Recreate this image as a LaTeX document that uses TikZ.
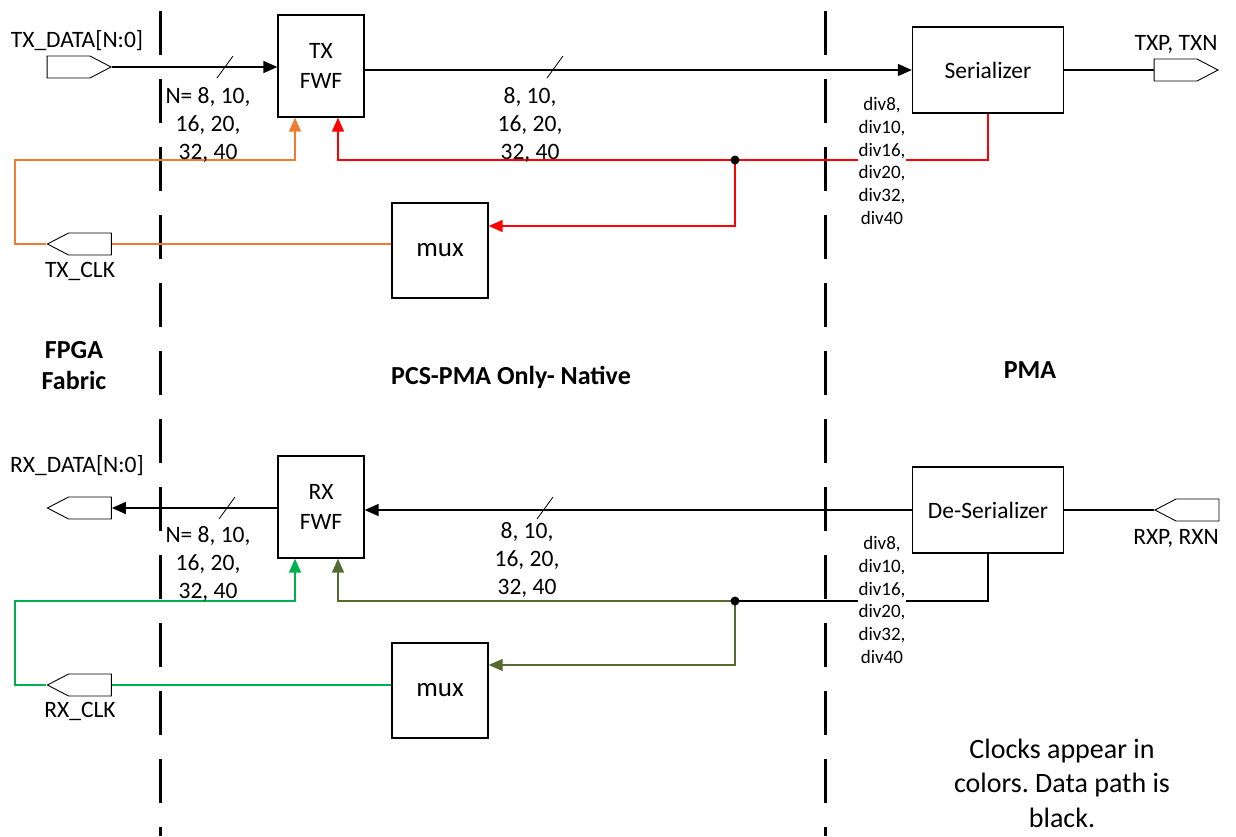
\documentclass[tikz,border=0pt]{standalone}
\usepackage{fontspec}
\setmainfont{Carlito}
\usetikzlibrary{arrows.meta,shapes.symbols}
\definecolor{txorange}{HTML}{ED7D31}
\definecolor{rxgreen}{HTML}{00B050}
\definecolor{rxolive}{HTML}{556B2F}
\frenchspacing
\tikzset{
    blk/.style={draw, line width=1.3pt, inner sep=0pt, align=center, font=\fontsize{23.5}{30}\selectfont},
    lbl/.style={inner sep=1pt, align=center, font=\fontsize{23.5}{28}\selectfont},
    divlbl/.style={fill=white, inner sep=1pt, align=center, font=\fontsize{19}{22.7}\selectfont},
    bigbold/.style={align=center, font=\fontsize{26}{31}\selectfont\bfseries},
    pinshape/.style={draw, line width=0.9pt, signal, signal pointer angle=55, inner sep=0pt, minimum width=64pt, minimum height=22pt},
    wire/.style={line width=1.6pt},
    tip/.style={-{Triangle[length=14pt,width=12pt]}}
}
\begin{document}
\begin{tikzpicture}[x=1pt,y=-1pt]
    \useasboundingbox (0,0) rectangle (1236,836);
    \foreach \x in {160,825}
        \draw[line width=3pt, dash pattern=on 44pt off 24pt] (\x,11) -- (\x,836);

    \node[blk, minimum width=86pt, minimum height=102pt] (txfwf) at (321,66) {TX\\FWF};
    \node[blk, minimum width=151pt, minimum height=86pt] (ser) at (988,70) {Serializer};
    \node[blk, minimum width=96pt, minimum height=95pt, font=\fontsize{27}{30}\selectfont] (txmux) at (440,250.5) {mux};
    \node[blk, minimum width=86pt, minimum height=102pt] (rxfwf) at (321,507) {RX\\FWF};
    \node[blk, minimum width=151pt, minimum height=86pt] (deser) at (988,510) {De-Serializer};
    \node[blk, minimum width=96pt, minimum height=95pt, font=\fontsize{27}{30}\selectfont] (rxmux) at (440,690.5) {mux};

    \node[pinshape, signal to=east] (txdata) at (68.5,67) {};
    \node[pinshape, signal to=west] (txclk) at (90,244) {};
    \node[pinshape, signal to=east] (txp) at (1175.5,70) {};
    \node[pinshape, signal to=west] (rxdata) at (90,508) {};
    \node[pinshape, signal to=west] (rxclk) at (90,685) {};
    \node[pinshape, signal to=west] (rxp) at (1197.5,510) {};

    \coordinate (jtx) at (735,160);
    \coordinate (jrx) at (735,601);
    \coordinate (txloop) at (15,160);
    \coordinate (rxloop) at (15,601);
    \coordinate (slA) at (225,67);
    \coordinate (slB) at (555,67);
    \coordinate (slC) at (227,508);
    \coordinate (slD) at (545,508);

    \draw[wire, tip] (txdata.east) -- (txdata.east -| txfwf.west);
    \draw[wire, tip] (txfwf.east |- ser.west) -- (ser.west);
    \draw[wire] (ser.east) -- (txp.west);
    \draw[wire, tip] (rxfwf.west |- rxdata.east) -- (rxdata.east);
    \draw[wire, tip] (deser.west) -- (deser.west -| rxfwf.east);
    \draw[wire] (deser.east) -- (rxp.west);
    \foreach \s in {slA,slB,slC,slD}
        \draw[line width=0.8pt] (\s) ++(-8,11) -- ++(16,-22);

    \draw[wire, red] (ser.south) |- (jtx);
    \draw[wire, red, tip] (jtx) -| ([xshift=17pt]txfwf.south);
    \draw[wire, red, tip] (jtx) |- ([yshift=24.5pt]txmux.east);
    \fill (jtx) circle (4.5pt);
    \draw[wire, txorange] (txclk.east) -- (txclk.east -| txmux.west);
    \draw[wire, txorange, tip] (txclk.west) -| (txloop) -| ([xshift=-26pt]txfwf.south);

    \draw[wire] (deser.south) |- (jrx);
    \draw[wire, rxolive, tip] (jrx) -| ([xshift=17pt]rxfwf.south);
    \draw[wire, rxolive, tip] (jrx) |- ([yshift=25.5pt]rxmux.east);
    \fill (jrx) circle (4.5pt);
    \draw[wire, rxgreen] (rxclk.east) -- (rxclk.east -| rxmux.west);
    \draw[wire, rxgreen, tip] (rxclk.west) -| (rxloop) -| ([xshift=-26pt]rxfwf.south);

    \node[lbl] (txdatalbl) at (77,41) {TX\_DATA[N:0]};
    \node[lbl] (txclklbl) at (80,271) {TX\_CLK};
    \node[lbl] (txplbl) at (1176,44) {TXP, TXN};
    \node[lbl] (rxdatalbl) at (77,466) {RX\_DATA[N:0]};
    \node[lbl] (rxclklbl) at (80,711) {RX\_CLK};
    \node[lbl] (rxplbl) at (1176,538) {RXP, RXN};
    \node[lbl] (txwidthA) at (208,125) {N= 8, 10,\\16, 20,\\32, 40};
    \node[lbl] (txwidthB) at (530,125) {8, 10,\\16, 20,\\32, 40};
    \node[lbl] (rxwidthA) at (208,564) {N= 8, 10,\\16, 20,\\32, 40};
    \node[lbl] (rxwidthB) at (527,560) {8, 10,\\16, 20,\\32, 40};
    \node[divlbl] (txdiv) at (882,161) {div8,\\div10,\\div16,\\div20,\\div32,\\div40};
    \node[divlbl] (rxdiv) at (882,600) {div8,\\div10,\\div16,\\div20,\\div32,\\div40};

    \node[bigbold] (fabric) at (74,366) {FPGA\\Fabric};
    \node[bigbold] (pcs) at (511,377) {PCS-PMA Only- Native};
    \node[bigbold] (pma) at (1030,370) {PMA};
    \node[align=center, font=\fontsize{28}{34.5}\selectfont] (note) at (1062,783) {Clocks appear in\\colors. Data path is\\black.};
\end{tikzpicture}
\end{document}
